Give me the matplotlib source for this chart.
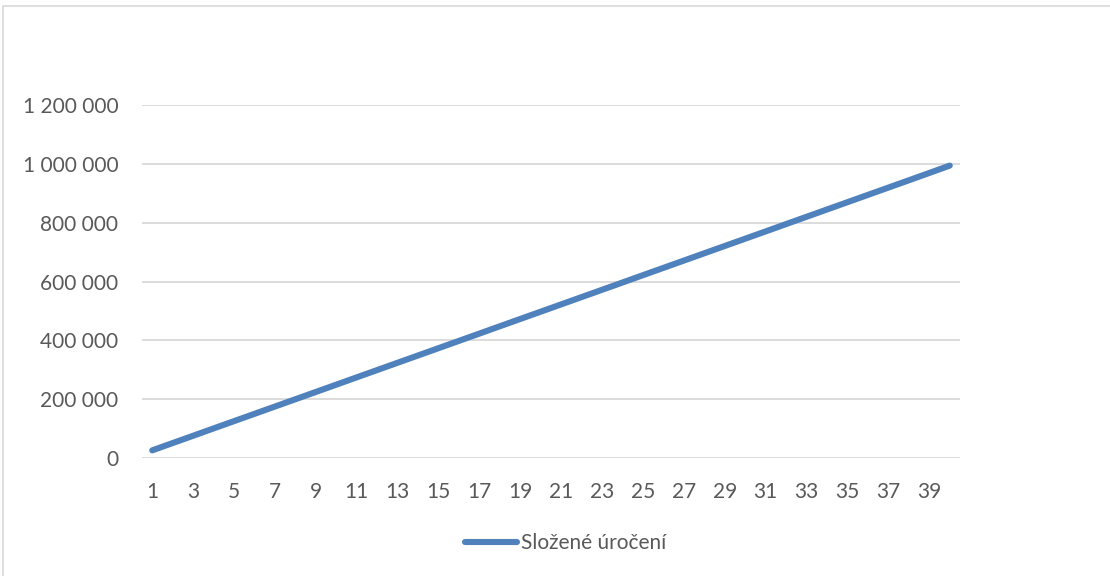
import matplotlib
matplotlib.use("Agg")
import matplotlib.pyplot as plt
from matplotlib.patches import Rectangle
from matplotlib.ticker import FuncFormatter

plt.rcParams['font.family'] = ['Lato', 'DejaVu Sans']

years = list(range(1, 41))
balance = [
    26000, 50800, 75600, 100500, 125300, 150100, 174900, 199700, 224500, 249300,
    274200, 299000, 323800, 348600, 373400, 398200, 423000, 447900, 472700, 497500,
    522300, 547100, 571900, 596700, 621600, 646400, 671200, 696000, 720800, 745600,
    770400, 795300, 820100, 844900, 869700, 894500, 919300, 944100, 969000, 994000,
]
series_name = "Složené úročení"
y_ticks = [0, 200000, 400000, 600000, 800000, 1000000, 1200000]
x_ticks = list(range(1, 40, 2))

W, H = 1110, 576
fig = plt.figure(figsize=(W / 100, H / 100), dpi=100)
fig.patch.set_facecolor("white")

# chart area frame
fig.patches.append(Rectangle((3 / W, -0.1), 1.2, 1 - 6 / H + 0.1,
                             transform=fig.transFigure, fill=False,
                             edgecolor="#D9D9D9", linewidth=1.2))

ax = fig.add_axes([142 / W, 118 / H, 818 / W, 353 / H])
ax.plot(years, balance, color="#4F81BD", linewidth=4.4,
        solid_capstyle="round", label=series_name, zorder=3)

ax.set_xlim(0.5, 40.5)
ax.set_ylim(0, 1200000)
ax.set_yticks(y_ticks)
ax.set_xticks(x_ticks)
ax.yaxis.set_major_formatter(FuncFormatter(lambda v, p: f"{int(v):,}".replace(",", " ")))
ax.grid(axis="y", color="#D9D9D9", linewidth=1.3)
ax.set_axisbelow(True)
for s in ax.spines.values():
    s.set_visible(False)
ax.tick_params(axis="both", length=0, labelsize=15, colors="#595959")
ax.tick_params(axis="y", pad=17)
ax.tick_params(axis="x", pad=17)

leg = fig.legend(loc="center", bbox_to_anchor=(566 / W, 1 - 543 / H), frameon=False,
                 fontsize=15, handlelength=2.5, handletextpad=0.2)
for t in leg.get_texts():
    t.set_color("#595959")

fig.savefig("out.png", dpi=100, facecolor="white")
